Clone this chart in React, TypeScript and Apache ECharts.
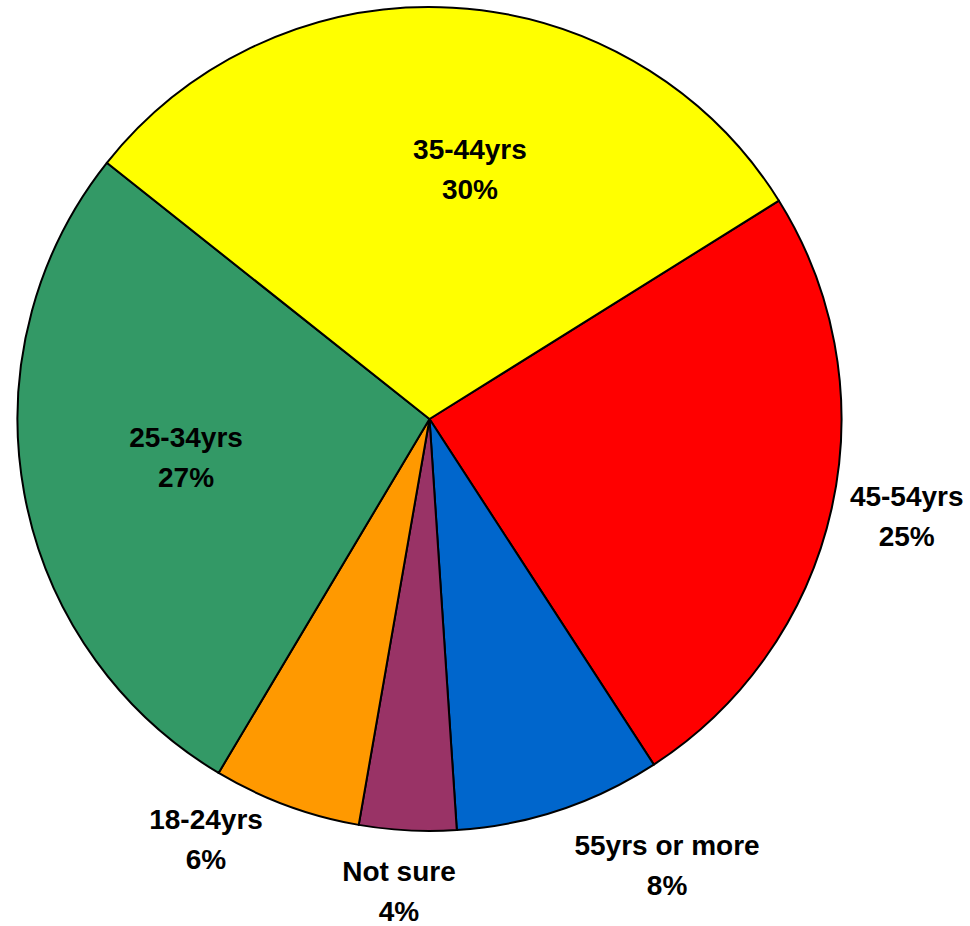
import React, { useEffect, useRef } from 'react';
import * as echarts from 'echarts';

// Data (clockwise from the red slice)
const categories = ['45-54yrs', '55yrs or more', 'Not sure', '18-24yrs', '25-34yrs', '35-44yrs'];
const values = [24.7, 8.1, 3.8, 5.8, 27.1, 30.4];

// Styles
const colors = ['#FF0000', '#0066CC', '#993366', '#FF9900', '#339966', '#FFFF00'];
const CENTER: [number, number] = [429.5, 419];
const RADIUS = 412;
const START_ANGLE = 32;
// label placement relative to the pie centre: [angle in degrees, distance in px]
const labelPolar: [number, number][] = [
  [-11.5, 487],
  [-62, 506],
  [-93.7, 473],
  [-118, 476],
  [-171, 246.5],
  [80.8, 253],
];

export default function App() {
  const ref = useRef<HTMLDivElement>(null);
  useEffect(() => {
    if (!ref.current) return;
    const chart = echarts.init(ref.current, undefined, { renderer: 'svg' });
    chart.setOption({
      animation: false,
      backgroundColor: '#ffffff',
      series: [
        {
          type: 'pie',
          center: CENTER,
          radius: RADIUS,
          startAngle: START_ANGLE,
          clockwise: true,
          avoidLabelOverlap: false,
          silent: true,
          emphasis: { disabled: true },
          itemStyle: { borderColor: '#000000', borderWidth: 2 },
          label: {
            show: true,
            position: 'inside',
            formatter: (p: any) => `${p.name}\n${Math.round(p.percent)}%`,
            fontFamily: '"Liberation Sans", Arial, sans-serif',
            fontWeight: 'bold',
            fontSize: 28,
            lineHeight: 40,
            color: '#000000',
            align: 'center',
            verticalAlign: 'middle',
          },
          labelLine: { show: false },
          labelLayout: (params: any) => {
            const [a, d] = labelPolar[params.dataIndex];
            const rad = (a * Math.PI) / 180;
            return {
              x: CENTER[0] + d * Math.cos(rad),
              y: CENTER[1] - d * Math.sin(rad),
              align: 'center',
              verticalAlign: 'middle',
            };
          },
          data: categories.map((name, i) => ({
            name,
            value: values[i],
            itemStyle: { color: colors[i] },
          })),
        },
      ],
    });
    return () => chart.dispose();
  }, []);
  return (
    <div
      ref={ref}
      style={{ position: 'fixed', left: 0, top: 0, width: 970, height: 926 }}
    />
  );
}
